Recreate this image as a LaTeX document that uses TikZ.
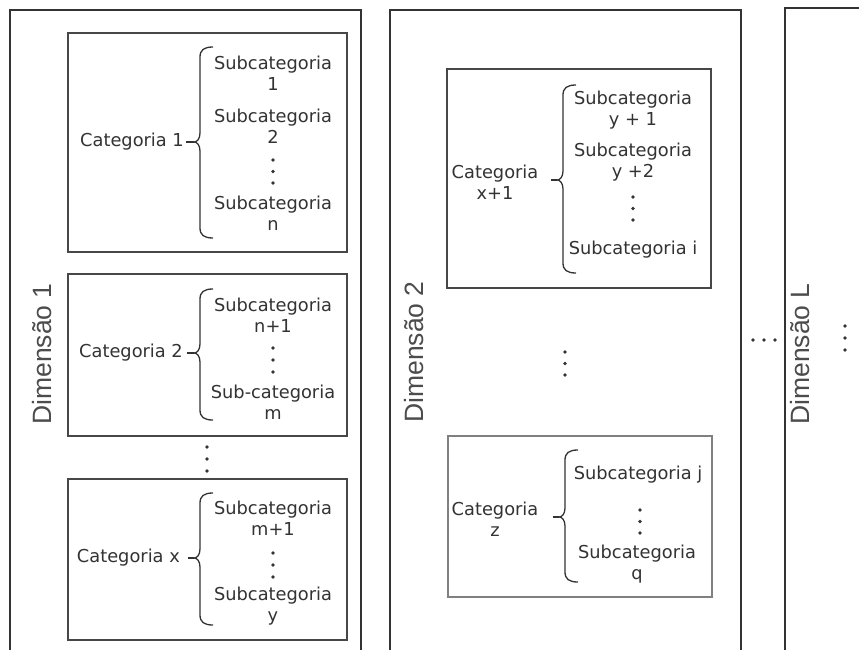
\documentclass[tikz,border=0pt]{standalone}
\usepackage{fontspec}
\setmainfont{DejaVu Sans}
\newfontfamily\dimfont{Liberation Sans}
\newcommand\mybrace[5]{%
  \draw[brc] ({#2+13},#3) .. controls ({#2+4},#3) and (#2,{#3+3}) .. (#2,{#3+10})
    -- (#2,{#4-9}) .. controls (#2,{#4-3}) and ({#2-3},#4) .. ({#2-6},#4)
    .. controls ({#2-3},#4) and (#2,{#4+3}) .. (#2,{#4+9})
    -- (#2,{#5-10}) .. controls (#2,{#5-3}) and ({#2+4},#5) .. ({#2+13},#5);
  \coordinate (#1) at ({#2-6},#4);}
\newcommand\vdotsat[4]{%
  \node[dotmark] (#1a) at (#2,{#3-#4}) {};
  \node[dotmark] (#1b) at (#2,#3) {};
  \node[dotmark] (#1c) at (#2,{#3+#4}) {};}
\begin{document}
\begin{tikzpicture}[x=1pt,y=-1pt,
  outer/.style={draw=black!80, line width=1.2pt},
  catbox/.style={draw=black!72, line width=1.5pt},
  catboxgray/.style={draw=black!50, line width=2.5pt},
  txt/.style={text=black!80, font=\fontsize{17.8}{21}\selectfont, align=center, inner sep=0pt},
  dimlabel/.style={rotate=90, font=\dimfont\fontsize{26.5}{30}\selectfont, text=black!70, inner sep=0pt},
  brc/.style={draw=black!80, line width=1.3pt},
  dotmark/.style={circle, fill=black!80, inner sep=0pt, minimum size=3.6pt}]
\useasboundingbox (0,0) rectangle (859,650);
\fill[white] (0,0) rectangle (859,650);

% dimension frames (open at the bottom)
\draw[outer] (10,655) -- (10,10) -- (361,10) -- (361,655);
\draw[outer] (390,655) -- (390,10) -- (741,10) -- (741,655);
\draw[outer] (785,655) -- (785,8) -- (870,8);

\node[dimlabel] (dim1) at (42,354) {Dimensão 1};
\node[dimlabel] (dim2) at (414,352) {Dimensão 2};
\node[dimlabel] (dimL) at (800,354) {Dimensão L};

% ---------- Dimensao 1 ----------
\draw[catbox] (68,33) rectangle (347,252);
\draw[catbox] (68,274) rectangle (347,436);
\draw[catbox] (68,479) rectangle (347,640);

% category 1
\node[txt, anchor=east] (c1) at (184,142) {Categoria 1};
\mybrace{b1}{200}{47}{142}{238}
\draw[brc, shorten <=2pt] (c1.east |- b1) -- (b1);
\node[txt] (s11) at (273,73.5) {Subcategoria\\1};
\node[txt] (s12) at (273,126) {Subcategoria\\2};
\vdotsat{d1}{273}{171.5}{11.5}
\node[txt] (s13) at (273,213) {Subcategoria\\n};

% category 2
\node[txt, anchor=east] (c2) at (183,353) {Categoria 2};
\mybrace{b2}{200}{289}{353}{420}
\draw[brc, shorten <=4pt] (c2.east |- b2) -- (b2);
\node[txt] (s21) at (273,315) {Subcategoria\\n+1};
\vdotsat{d2}{273}{360}{12}
\node[txt] (s22) at (273,402) {Sub-categoria\\m};

\vdotsat{d3}{207}{459}{12}

% category x
\node[txt, anchor=east] (c3) at (180,558) {Categoria x};
\mybrace{b3}{200}{493}{558}{625}
\draw[brc, shorten <=8pt] (c3.east |- b3) -- (b3);
\node[txt] (s31) at (273,518.5) {Subcategoria\\m+1};
\vdotsat{d4}{273}{565}{12}
\node[txt] (s32) at (273,606.5) {Subcategoria\\y};

% ---------- Dimensao 2 ----------
\draw[catbox] (447,69) rectangle (711,288);
\draw[catboxgray] (448,436) rectangle (712,597);

% category x+1
\node[txt] (c4) at (495,182.5) {Categoria\\x+1};
\mybrace{b4}{563}{85}{180}{273}
\draw[brc, shorten <=12pt] (c4.east |- b4) -- (b4);
\node[txt] (s41) at (633,110) {Subcategoria\\y + 1};
\node[txt] (s42) at (633,162.5) {Subcategoria\\y +2};
\vdotsat{d5}{633}{208.5}{11.5}
\node[txt] (s43) at (633,250) {Subcategoria i};

\vdotsat{d6}{565}{363.5}{11.5}

% category z
\node[txt] (c5) at (495,519) {Categoria\\z};
\mybrace{b5}{565}{450}{517}{582}
\draw[brc, shorten <=14pt] (c5.east |- b5) -- (b5);
\node[txt] (s51) at (638,475) {Subcategoria j};
\vdotsat{d7}{640}{521.5}{11.5}
\node[txt] (s52) at (637,564) {Subcategoria\\q};

% ellipses between and after dimensions
\node[dotmark] (h1) at (753,340) {};
\node[dotmark] (h2) at (764,340) {};
\node[dotmark] (h3) at (775,340) {};
\vdotsat{d8}{845}{338}{12}
\end{tikzpicture}
\end{document}
